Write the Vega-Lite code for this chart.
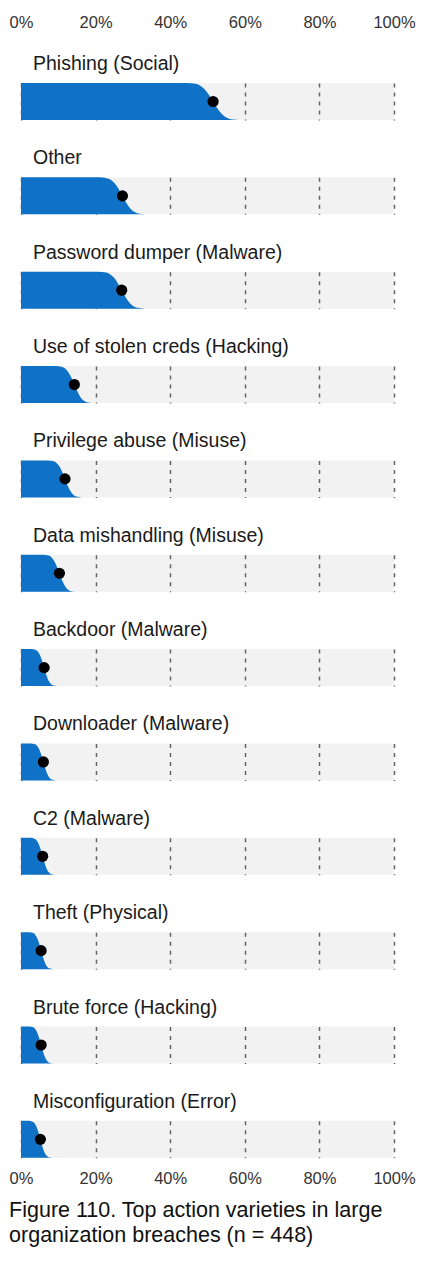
{
  "$schema": "https://vega.github.io/schema/vega-lite/v6.json",
  "padding": {"left": 9, "top": 14, "right": 5, "bottom": 5},
  "background": "white",
  "data": {"values": [
    {"v": "Phishing (Social)", "x": [0, 44.42, 46.78, 47.96, 49.14, 50.32, 51.5, 52.68, 53.86, 55.04, 56.22, 58.58], "d": [1, 1, 0.977, 0.933, 0.841, 0.691, 0.5, 0.309, 0.159, 0.067, 0.023, 0]},
    {"v": "Other", "x": [0, 20.9, 23.0, 24.05, 25.1, 26.15, 27.2, 28.25, 29.3, 30.35, 31.4, 33.5], "d": [1, 1, 0.977, 0.933, 0.841, 0.691, 0.5, 0.309, 0.159, 0.067, 0.023, 0]},
    {"v": "Password dumper (Malware)", "x": [0, 20.7, 22.8, 23.85, 24.9, 25.95, 27.0, 28.05, 29.1, 30.15, 31.2, 33.3], "d": [1, 1, 0.977, 0.933, 0.841, 0.691, 0.5, 0.309, 0.159, 0.067, 0.023, 0]},
    {"v": "Use of stolen creds (Hacking)", "x": [0, 9.35, 11.0, 11.83, 12.65, 13.48, 14.3, 15.13, 15.95, 16.78, 17.6, 19.25], "d": [1, 1, 0.977, 0.933, 0.841, 0.691, 0.5, 0.309, 0.159, 0.067, 0.023, 0]},
    {"v": "Privilege abuse (Misuse)", "x": [0, 7.24, 8.76, 9.52, 10.28, 11.04, 11.8, 12.56, 13.32, 14.08, 14.84, 16.36], "d": [1, 1, 0.977, 0.933, 0.841, 0.691, 0.5, 0.309, 0.159, 0.067, 0.023, 0]},
    {"v": "Data mishandling (Misuse)", "x": [0, 5.98, 7.42, 8.14, 8.86, 9.58, 10.3, 11.02, 11.74, 12.46, 13.18, 14.62], "d": [1, 1, 0.977, 0.933, 0.841, 0.691, 0.5, 0.309, 0.159, 0.067, 0.023, 0]},
    {"v": "Backdoor (Malware)", "x": [0, 2.78, 3.92, 4.49, 5.06, 5.63, 6.2, 6.77, 7.34, 7.91, 8.48, 9.62], "d": [1, 1, 0.977, 0.933, 0.841, 0.691, 0.5, 0.309, 0.159, 0.067, 0.023, 0]},
    {"v": "Downloader (Malware)", "x": [0, 2.64, 3.76, 4.32, 4.88, 5.44, 6.0, 6.56, 7.12, 7.68, 8.24, 9.36], "d": [1, 1, 0.977, 0.933, 0.841, 0.691, 0.5, 0.309, 0.159, 0.067, 0.023, 0]},
    {"v": "C2 (Malware)", "x": [0, 2.5, 3.6, 4.15, 4.7, 5.25, 5.8, 6.35, 6.9, 7.45, 8.0, 9.1], "d": [1, 1, 0.977, 0.933, 0.841, 0.691, 0.5, 0.309, 0.159, 0.067, 0.023, 0]},
    {"v": "Theft (Physical)", "x": [0, 2.19, 3.26, 3.8, 4.33, 4.87, 5.4, 5.94, 6.47, 7.01, 7.54, 8.61], "d": [1, 1, 0.977, 0.933, 0.841, 0.691, 0.5, 0.309, 0.159, 0.067, 0.023, 0]},
    {"v": "Brute force (Hacking)", "x": [0, 2.19, 3.26, 3.8, 4.33, 4.87, 5.4, 5.94, 6.47, 7.01, 7.54, 8.61], "d": [1, 1, 0.977, 0.933, 0.841, 0.691, 0.5, 0.309, 0.159, 0.067, 0.023, 0]},
    {"v": "Misconfiguration (Error)", "x": [0, 2.05, 3.1, 3.63, 4.15, 4.68, 5.2, 5.73, 6.25, 6.78, 7.3, 8.35], "d": [1, 1, 0.977, 0.933, 0.841, 0.691, 0.5, 0.309, 0.159, 0.067, 0.023, 0]}
  ]},
  "transform": [{"flatten": ["x", "d"]}],
  "facet": {
    "row": {
      "field": "v",
      "type": "nominal",
      "sort": ["Phishing (Social)", "Other", "Password dumper (Malware)", "Use of stolen creds (Hacking)", "Privilege abuse (Misuse)", "Data mishandling (Misuse)", "Backdoor (Malware)", "Downloader (Malware)", "C2 (Malware)", "Theft (Physical)", "Brute force (Hacking)", "Misconfiguration (Error)"],
      "header": {"labels": false, "title": null}
    }
  },
  "spacing": {"row": 28.35},
  "title": {
    "text": ["Figure 110. Top action varieties in large", "organization breaches (n = 448)"],
    "orient": "bottom",
    "anchor": "start",
    "font": "Liberation Sans",
    "fontSize": 21.5,
    "fontWeight": "normal",
    "color": "#111111",
    "lineHeight": 25,
    "offset": 13
  },
  "spec": {
    "width": 373,
    "height": 37,
    "layer": [
      {
        "mark": {"type": "area", "interpolate": "monotone", "color": "#1072c6"},
        "encoding": {
          "x": {"field": "x", "type": "quantitative", "scale": {"domain": [0, 100], "nice": false},
                "axis": {"orient": "bottom", "title": null, "values": [0, 20, 40, 60, 80, 100], "labelExpr": "datum.value + '%'", "grid": true, "labelPadding": 12}},
          "y": {"field": "d", "type": "quantitative", "stack": null, "scale": {"domain": [0, 1]}, "axis": null}
        }
      },
      {
        "transform": [{"filter": "datum.d == 0.5"}],
        "mark": {"type": "point", "filled": true, "color": "black", "size": 125, "opacity": 1},
        "encoding": {
          "x": {"field": "x", "type": "quantitative", "scale": {"domain": [0, 100], "nice": false},
                "axis": {"orient": "top", "title": null, "values": [0, 20, 40, 60, 80, 100], "labelExpr": "datum.value + '%'", "grid": false, "labelPadding": 24}},
          "y": {"datum": 0.5}
        }
      },
      {
        "transform": [{"filter": "datum.d == 0.5"}],
        "mark": {"type": "text", "align": "left", "baseline": "alphabetic", "font": "Liberation Sans", "fontSize": 19.5, "color": "#1a1a1a", "dx": 12, "dy": -13},
        "encoding": {
          "text": {"field": "v"},
          "x": {"datum": 0, "axis": null},
          "y": {"datum": 1}
        }
      }
    ],
    "resolve": {"axis": {"x": "independent"}}
  },
  "config": {
    "font": "Liberation Sans",
    "view": {"fill": "#f2f2f2", "stroke": null},
    "axis": {
      "domain": false,
      "ticks": false,
      "labelFlush": false,
      "labelFont": "Liberation Sans",
      "labelFontSize": 16.5,
      "labelColor": "#333333",
      "gridColor": "#666666",
      "gridDash": [4, 5],
      "gridWidth": 1.5
    }
  }
}
